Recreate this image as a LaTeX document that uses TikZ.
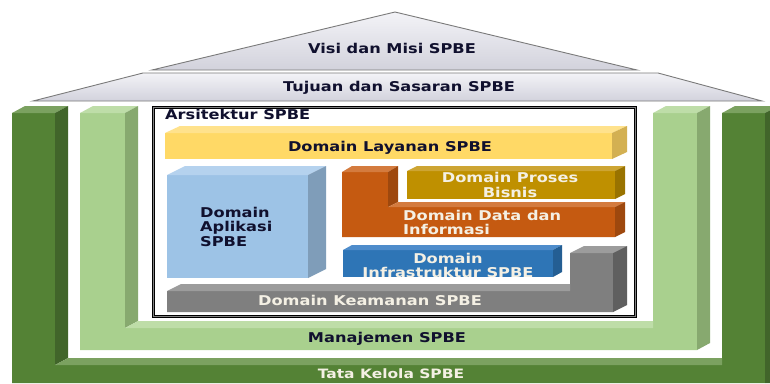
\documentclass[tikz,border=0pt]{standalone}
\usepackage{fontspec}
\newfontfamily\lblfont[FakeStretch=1.2]{DejaVu Sans}
\definecolor{darktxt}{HTML}{10102E}
\definecolor{dgF}{HTML}{548235}
\definecolor{dgS}{HTML}{41652A}
\definecolor{dgT}{HTML}{7BA160}
\definecolor{lgF}{HTML}{A9D08E}
\definecolor{lgS}{HTML}{87A96F}
\definecolor{lgT}{HTML}{BEDDA8}
\definecolor{yeF}{HTML}{FFD966}
\definecolor{yeT}{HTML}{FFE28C}
\definecolor{yeS}{HTML}{D3B052}
\definecolor{blF}{HTML}{9DC3E6}
\definecolor{blT}{HTML}{B5D2EE}
\definecolor{blS}{HTML}{7F9DB9}
\definecolor{orF}{HTML}{C55A11}
\definecolor{orT}{HTML}{D47B3E}
\definecolor{orS}{HTML}{9E480E}
\definecolor{goF}{HTML}{BF9000}
\definecolor{goT}{HTML}{CDA533}
\definecolor{goS}{HTML}{997300}
\definecolor{buF}{HTML}{2E75B6}
\definecolor{buT}{HTML}{4E8CCB}
\definecolor{buS}{HTML}{245E93}
\definecolor{grF}{HTML}{7F7F7F}
\definecolor{grT}{HTML}{9C9C9C}
\definecolor{grS}{HTML}{5F5F5F}
\definecolor{roofTop}{HTML}{F3F3F7}
\definecolor{roofBot}{HTML}{D2D2DC}
\definecolor{roofLine}{HTML}{7A7A7A}
\definecolor{lighttxt}{HTML}{F4F0E4}
\begin{document}
\begin{tikzpicture}[x=1pt,y=-1pt,
  lbl/.style={font=\lblfont\bfseries\fontsize{13.5}{14.5}\selectfont, inner sep=0pt, text=darktxt},
  lbllight/.style={lbl, text=lighttxt},
  roof/.style={draw=roofLine, line width=0.9pt, top color=roofTop, bottom color=roofBot}]
\useasboundingbox (0,0) rectangle (770,383);
\clip (0,0) rectangle (770,383);
\fill[white] (0,0) rectangle (770,383);
% roof
\path[roof] (152,70) -- (395,12) -- (637,70) -- cycle;
\path[roof] (143,73) -- (658,73) -- (762,101) -- (33,101) -- cycle;
% dark green U (Tata Kelola)
\fill[dgF] (12,113) -- (55,113) -- (55,365) -- (722,365) -- (722,113) -- (765,113) -- (765,383) -- (12,383) -- cycle;
\fill[dgT] (12,113) -- (25,106) -- (68,106) -- (55,113) -- cycle;
\fill[dgT] (722,113) -- (735,106) -- (778,106) -- (765,113) -- cycle;
\fill[dgS] (55,113) -- (68,106) -- (68,358) -- (55,365) -- cycle;
\fill[dgS] (765,113) -- (778,106) -- (778,383) -- (765,383) -- cycle;
\fill[dgT] (55,365) -- (68,358) -- (722,358) -- (722,365) -- cycle;
% light green U (Manajemen)
\fill[lgF] (80,113) -- (125,113) -- (125,328) -- (653,328) -- (653,113) -- (697,113) -- (697,350) -- (80,350) -- cycle;
\fill[lgT] (80,113) -- (93,106) -- (138,106) -- (125,113) -- cycle;
\fill[lgT] (653,113) -- (666,106) -- (710,106) -- (697,113) -- cycle;
\fill[lgS] (125,113) -- (138,106) -- (138,321) -- (125,328) -- cycle;
\fill[lgS] (697,113) -- (710,106) -- (710,343) -- (697,350) -- cycle;
\fill[lgT] (125,328) -- (138,321) -- (653,321) -- (653,328) -- cycle;
% Arsitektur frame
\fill[white] (152,106) rectangle (637,318);
\draw[black, line width=2.8pt] (153.5,107.5) rectangle (635.5,316.5);
\draw[gray, line width=0.6pt] (153.5,107.5) rectangle (635.5,316.5);
% Domain Layanan (yellow)
\fill[yeF] (165,133) rectangle (612,159);
\fill[yeT] (165,133) -- (180,126) -- (627,126) -- (612,133) -- cycle;
\fill[yeS] (612,133) -- (627,126) -- (627,152) -- (612,159) -- cycle;
% Domain Aplikasi (light blue)
\fill[blF] (167,175) rectangle (308,278);
\fill[blT] (167,175) -- (185,166) -- (326,166) -- (308,175) -- cycle;
\fill[blS] (308,175) -- (326,166) -- (326,269) -- (308,278) -- cycle;
% Domain Data dan Informasi (orange L)
\fill[orF] (342,172) -- (388,172) -- (388,207) -- (615,207) -- (615,237) -- (342,237) -- cycle;
\fill[orT] (342,172) -- (352,166) -- (398,166) -- (388,172) -- cycle;
\fill[orS] (388,172) -- (398,166) -- (398,202) -- (388,207) -- cycle;
\fill[orT] (388,207) -- (398,202) -- (625,202) -- (615,207) -- cycle;
\fill[orS] (615,207) -- (625,202) -- (625,232) -- (615,237) -- cycle;
% Domain Proses Bisnis (gold)
\fill[goF] (407,171) rectangle (615,199);
\fill[goT] (407,171) -- (417,166) -- (625,166) -- (615,171) -- cycle;
\fill[goS] (615,171) -- (625,166) -- (625,194) -- (615,199) -- cycle;
% Domain Infrastruktur (blue)
\fill[buF] (343,250) rectangle (553,277);
\fill[buT] (343,250) -- (352,245) -- (562,245) -- (553,250) -- cycle;
\fill[buS] (553,250) -- (562,245) -- (562,272) -- (553,277) -- cycle;
% Domain Keamanan (gray L)
\fill[grF] (167,291) -- (570,291) -- (570,253) -- (613,253) -- (613,312) -- (167,312) -- cycle;
\fill[grT] (167,291) -- (181,284) -- (570,284) -- (570,291) -- cycle;
\fill[grT] (570,253) -- (584,246) -- (627,246) -- (613,253) -- cycle;
\fill[grS] (613,253) -- (627,246) -- (627,305) -- (613,312) -- cycle;
% labels
\node[lbl, anchor=base] (visi) at (392,53) {Visi dan Misi SPBE};
\node[lbl, anchor=base] (tujuan) at (399,91) {Tujuan dan Sasaran SPBE};
\node[lbl, anchor=base west] (arsi) at (165,119) {Arsitektur SPBE};
\node[lbl, anchor=base] (layanan) at (390,151) {Domain Layanan SPBE};
\node[lbl, anchor=west, align=left] (aplikasi) at (200,226.5) {Domain\\Aplikasi\\SPBE};
\node[lbllight, anchor=center, align=center] (proses) at (510,185.2) {Domain Proses\\Bisnis};
\node[lbllight, anchor=west, align=left] (data) at (403,222.3) {Domain Data dan\\Informasi};
\node[lbllight, anchor=center, align=center, font=\lblfont\bfseries\fontsize{13.5}{14}\selectfont] (infra) at (448,265) {Domain\\Infrastruktur SPBE};
\node[lbllight, anchor=base] (keamanan) at (370,305.5) {Domain Keamanan SPBE};
\node[lbl, anchor=base] (manajemen) at (387,342) {Manajemen SPBE};
\node[lbllight, anchor=base, font=\lblfont\bfseries\fontsize{12.9}{14}\selectfont] (tata) at (391,378.5) {Tata Kelola SPBE};
\end{tikzpicture}
\end{document}
